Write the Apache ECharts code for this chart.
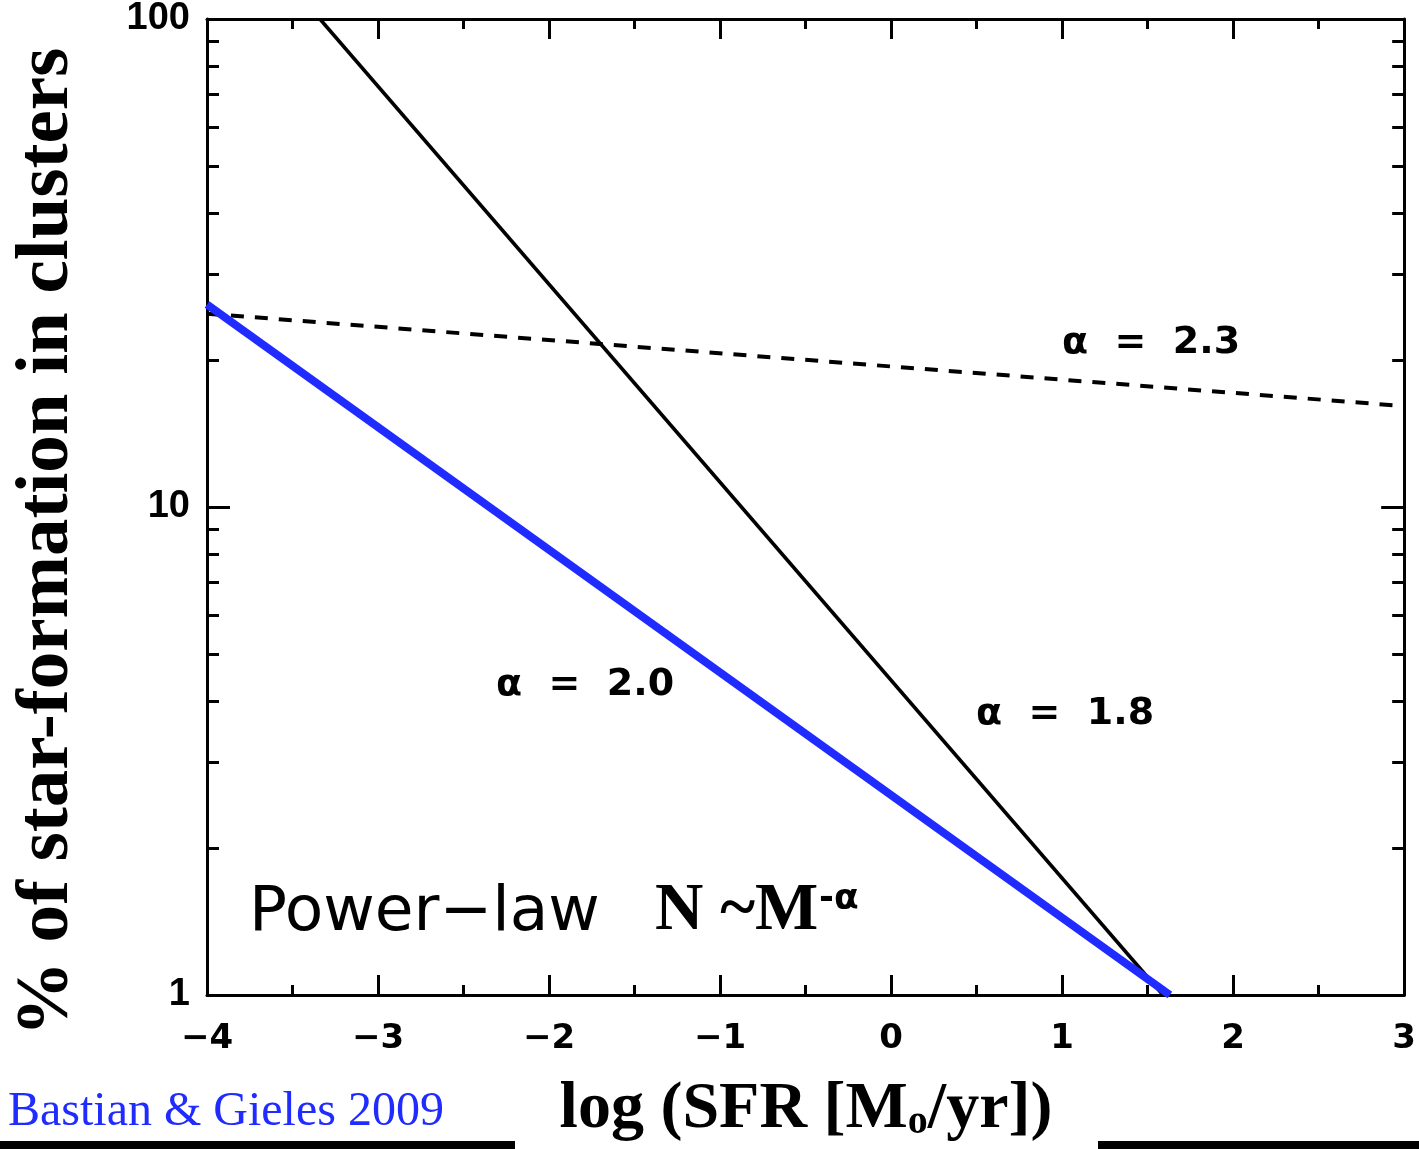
<!DOCTYPE html>
<html>
<head>
<meta charset="utf-8">
<title>Cluster formation efficiency vs SFR</title>
<script src="https://cdn.jsdelivr.net/npm/echarts@6/dist/echarts.min.js"></script>
<style>
  html, body { margin: 0; padding: 0; background: #ffffff; }
  #chart { width: 1419px; height: 1149px; }
</style>
</head>
<body>
<div id="chart"></div>
<script>
// x axis: log(SFR) range and tick step
const xRange = [-4, 3];
const xStep = 1;

// y axis: percentage, logarithmic
const yRange = [1, 100];
const yMinorTicks = [2, 3, 4, 5, 6, 7, 8, 9, 20, 30, 40, 50, 60, 70, 80, 90];

// Power-law model curves, [log SFR, % of star formation in clusters]
const alpha18 = [[-3.34, 100], [1.59, 1.0]];
const alpha20 = [[-4.0, 26.0], [1.63, 1.0]];
const alpha23 = [[-4.0, 24.9], [3.0, 16.1]];

// Curve annotations
const curveLabels = ['α  =  2.3', 'α  =  2.0', 'α  =  1.8'];

const chart = echarts.init(document.getElementById('chart'), null, { renderer: 'canvas' });

const INK = '#000000';
const BLUE = '#1f2bff';

function fmtX(v) {
  return v < 0 ? '\u2212' + Math.abs(v) : String(v);
}

const xBase = {
  type: 'value',
  min: xRange[0],
  max: xRange[1],
  interval: xStep,
  gridIndex: 0,
  splitLine: { show: false },
  axisLine: { show: true, onZero: false, lineStyle: { color: INK, width: 3 } },
  axisTick: { show: true, inside: true, length: 20, lineStyle: { color: INK, width: 3 } },
  minorTick: { show: true, splitNumber: 2, length: 10, lineStyle: { color: INK, width: 3 } },
  minorSplitLine: { show: false }
};

const yMajor = (pos, showLabel) => ({
  type: 'log',
  logBase: 10,
  min: yRange[0],
  max: yRange[1],
  gridIndex: 0,
  position: pos,
  splitLine: { show: false },
  axisLine: { show: true, onZero: false, lineStyle: { color: INK, width: 3 } },
  axisTick: { show: true, inside: true, length: 23, lineStyle: { color: INK, width: 3 } },
  axisLabel: {
    show: showLabel,
    margin: 17,
    fontFamily: 'Liberation Sans',
    fontWeight: 'bold',
    fontSize: 38,
    color: INK
  }
});

const yMinor = (pos) => ({
  type: 'log',
  logBase: 10,
  min: yRange[0],
  max: yRange[1],
  gridIndex: 0,
  position: pos,
  splitLine: { show: false },
  axisLine: { show: false, onZero: false },
  axisTick: { show: true, inside: true, length: 12, customValues: yMinorTicks, lineStyle: { color: INK, width: 3 } },
  axisLabel: { show: false, customValues: yMinorTicks }
});

const option = {
  backgroundColor: '#ffffff',
  animation: false,
  grid: { left: 207, top: 13, right: 12, bottom: 154, containLabel: false },
  xAxis: [
    Object.assign({}, xBase, {
      position: 'bottom',
      axisLabel: {
        show: true,
        margin: 27,
        formatter: fmtX,
        fontFamily: 'DejaVu Sans',
        fontWeight: 'bold',
        fontSize: 34,
        color: INK
      }
    }),
    Object.assign({}, xBase, {
      position: 'top',
      axisLabel: { show: false }
    })
  ],
  yAxis: [
    yMajor('left', true),
    yMinor('left'),
    yMajor('right', false),
    yMinor('right')
  ],
  series: [
    {
      name: 'α = 2.3',
      type: 'line',
      data: alpha23,
      symbol: 'none',
      lineStyle: { color: INK, width: 4, type: [13, 11] },
      z: 2
    },
    {
      name: 'α = 1.8',
      type: 'line',
      data: alpha18,
      symbol: 'none',
      lineStyle: { color: INK, width: 3.5 },
      z: 3
    },
    {
      name: 'α = 2.0',
      type: 'line',
      data: alpha20,
      symbol: 'none',
      lineStyle: { color: BLUE, width: 8, cap: 'butt' },
      z: 4
    }
  ],
  graphic: [
    // curve annotations
    {
      type: 'text', left: 1062, top: 324,
      style: { text: curveLabels[0], font: 'bold 38px "DejaVu Sans"', fill: INK }
    },
    {
      type: 'text', left: 496, top: 666,
      style: { text: curveLabels[1], font: 'bold 38px "DejaVu Sans"', fill: INK }
    },
    {
      type: 'text', left: 976, top: 695,
      style: { text: curveLabels[2], font: 'bold 38px "DejaVu Sans"', fill: INK }
    },
    // power-law caption
    {
      type: 'text', left: 249, top: 882,
      style: { text: 'Power\u2212law', font: '63px "DejaVu Sans"', fill: INK }
    },
    {
      type: 'text', left: 655, top: 878,
      style: { text: 'N ~M', font: 'bold 67px "Liberation Serif"', fill: INK }
    },
    {
      type: 'text', left: 819, top: 882,
      style: { text: '-α', font: 'bold 36px "DejaVu Sans"', fill: INK }
    },
    // y axis title
    {
      type: 'text',
      x: 48, y: 542,
      rotation: Math.PI / 2,
      style: {
        text: '% of star-formation in clusters',
        font: 'bold 75px "Liberation Serif"',
        fill: INK,
        align: 'center',
        verticalAlign: 'middle'
      }
    },
    // x axis title with subscript
    {
      type: 'text',
      x: 806, y: 1110,
      style: {
        text: '{m|log (SFR [M}{s|o}{m|/yr])}',
        align: 'center',
        verticalAlign: 'middle',
        rich: {
          m: { font: 'bold 66px "Liberation Serif"', fill: INK, color: INK },
          s: { font: 'bold 40px "Liberation Serif"', fill: INK, color: INK, verticalAlign: 'bottom' }
        }
      }
    },
    // reference
    {
      type: 'text', left: 8, top: 1088,
      style: { text: 'Bastian & Gieles 2009', font: '48px "Liberation Serif"', fill: BLUE }
    },
    // footer rules
    { type: 'rect', shape: { x: 0, y: 1141, width: 515, height: 8 }, style: { fill: INK } },
    { type: 'rect', shape: { x: 1098, y: 1141, width: 321, height: 8 }, style: { fill: INK } }
  ]
};

chart.setOption(option);
</script>
</body>
</html>
